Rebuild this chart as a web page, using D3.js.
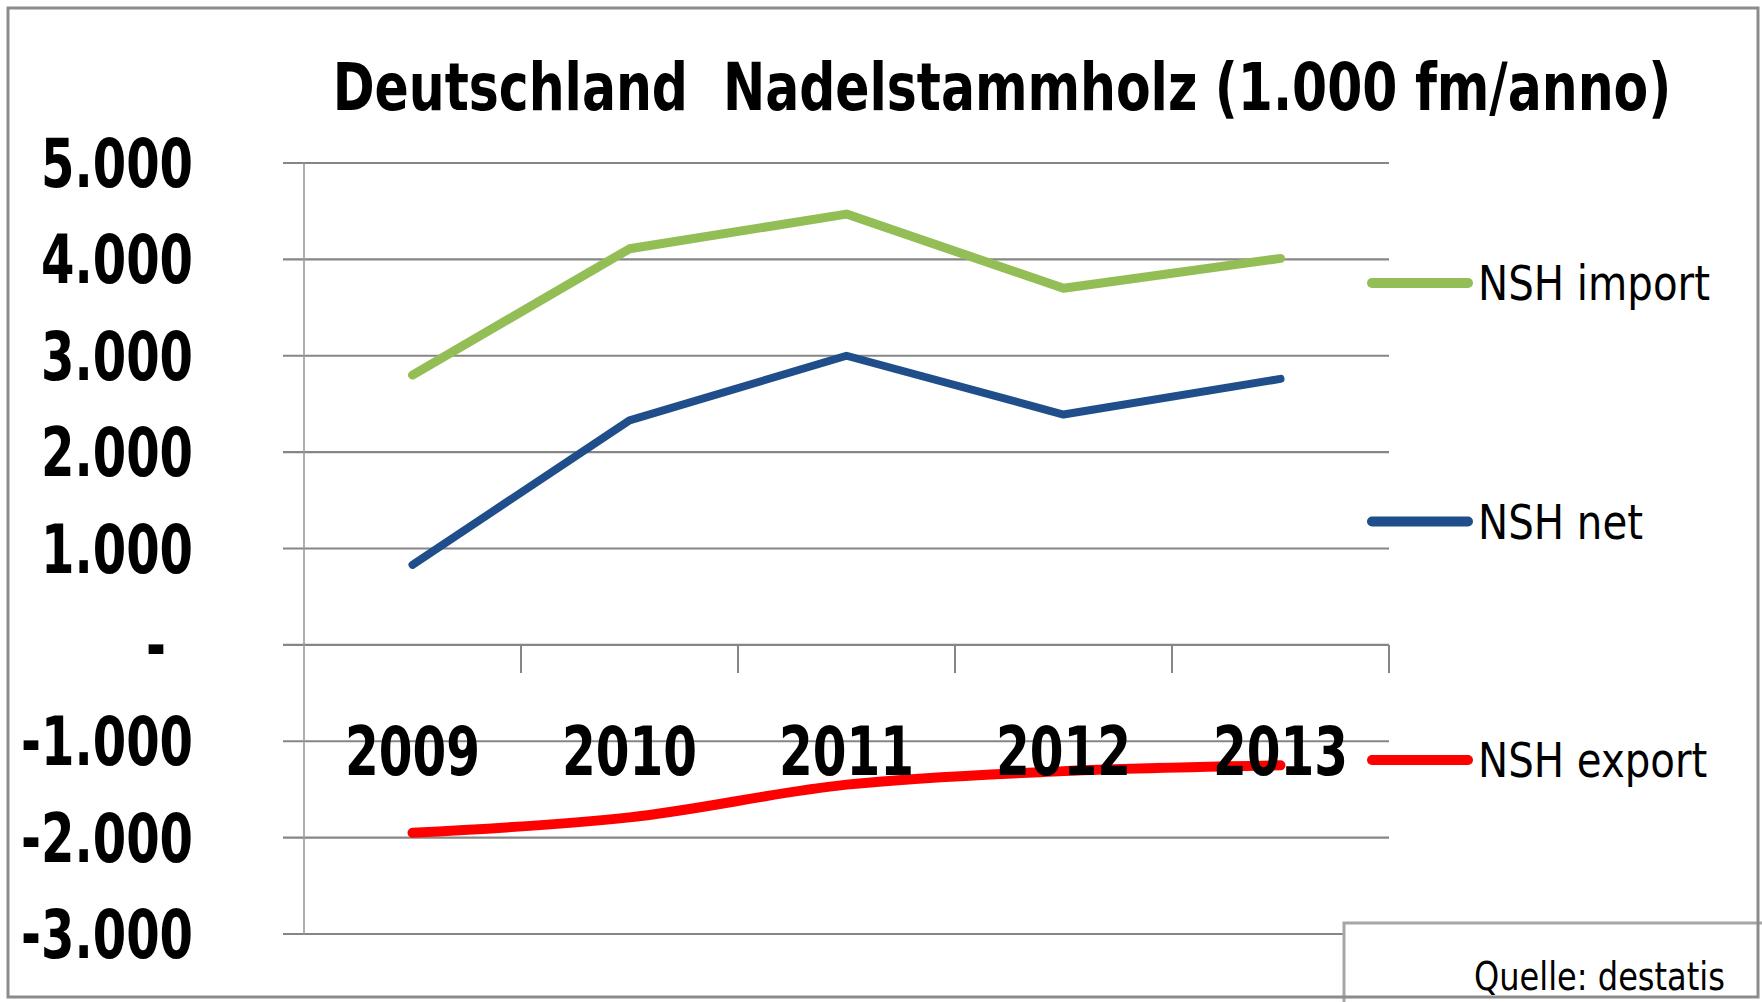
<!DOCTYPE html>
<html>
<head>
<meta charset="utf-8">
<script src="https://cdn.jsdelivr.net/npm/d3@7"></script>
<style>
  body { margin: 0; background: #fff; }
  text { font-family: "Liberation Sans Narrow", "DejaVu Sans Condensed", "Liberation Sans", sans-serif; fill: #000; }
</style>
</head>
<body>
<div id="vis"></div>
<script>
////////// data //////////
var years = ["2009", "2010", "2011", "2012", "2013"];
var nshImport = [2800, 4110, 4470, 3700, 4010];
var nshNet = [830, 2330, 3000, 2390, 2760];
var nshExport = [-1950, -1790, -1450, -1310, -1250];
var yTicks = [5000, 4000, 3000, 2000, 1000, 0, -1000, -2000, -3000];
var seriesNames = ["NSH import", "NSH net", "NSH export"];
var titleText = "Deutschland  Nadelstammholz (1.000 fm/anno)";
var sourceText = "Quelle: destatis";

var series = [
  { name: seriesNames[0], values: nshImport, color: "#93bd55", width: 9, smooth: false },
  { name: seriesNames[1], values: nshNet, color: "#1f4e8a", width: 8, smooth: false },
  { name: seriesNames[2], values: nshExport, color: "#ff0000", width: 10, smooth: true }
];

////////// layout //////////
var width = 1762, height = 1002;
var margin = { top: 163, right: 373, bottom: 68, left: 304 },
  widthVis = width - margin.left - margin.right,
  heightVis = height - margin.top - margin.bottom;

var de = d3.formatLocale({ decimal: ",", thousands: ".", grouping: [3], currency: ["", " €"], minus: "-" });
var fmt = de.format(",d");

var svg = d3.select("#vis")
  .append("svg")
  .attr("width", width)
  .attr("height", height);

svg.append("rect").attr("width", width).attr("height", height).attr("fill", "#fff");

var x = d3.scaleBand().domain(years).range([0, widthVis]);
var y = d3.scaleLinear().domain([-3000, 5000]).range([heightVis, 0]);
var cx = function (d) { return x(d) + x.bandwidth() / 2; };

// squeeze text horizontally (narrow look like the original font):
// one factor per group, taken from a sample label and its target width
function squeeze(sel, sampleWidth, sampleNode) {
  var k = sampleWidth / sampleNode.getComputedTextLength();
  sel.each(function () {
    var t = d3.select(this);
    var ax = +t.attr("x") || 0, ay = +t.attr("y") || 0;
    t.attr("x", 0).attr("y", 0)
      .attr("transform", "translate(" + ax + "," + ay + ") scale(" + k + ",1)");
  });
}

var g = svg.append("g").attr("transform", "translate(" + margin.left + "," + margin.top + ")");

////////// grid + axes //////////
g.append("g").attr("class", "grid")
  .selectAll("line")
  .data(yTicks)
  .enter().append("line")
  .attr("x1", -21).attr("x2", widthVis)
  .attr("y1", y).attr("y2", y)
  .attr("stroke", "#868686")
  .attr("stroke-width", 2.2);

g.append("line")
  .attr("x1", 0).attr("x2", 0)
  .attr("y1", 0).attr("y2", heightVis)
  .attr("stroke", "#9a9a9a")
  .attr("stroke-width", 1.6);

g.append("g").attr("class", "xticks")
  .selectAll("line")
  .data(years)
  .enter().append("line")
  .attr("x1", function (d) { return x(d) + x.bandwidth(); })
  .attr("x2", function (d) { return x(d) + x.bandwidth(); })
  .attr("y1", y(0)).attr("y2", y(0) + 28)
  .attr("stroke", "#868686")
  .attr("stroke-width", 2);

////////// lines //////////
series.forEach(function (s) {
  var line = d3.line()
    .x(function (d, i) { return cx(years[i]); })
    .y(function (d) { return y(d); })
    .curve(s.smooth ? d3.curveCatmullRom.alpha(0.5) : d3.curveLinear);
  g.append("path")
    .datum(s.values)
    .attr("d", line)
    .attr("fill", "none")
    .attr("stroke", s.color)
    .attr("stroke-width", s.width)
    .attr("stroke-linecap", "round")
    .attr("stroke-linejoin", "round");
});

////////// tick labels //////////
var yLabels = g.append("g").attr("class", "ylabels")
  .selectAll("text")
  .data(yTicks)
  .enter().append("text")
  .attr("x", function (d) { return d === 0 ? -138 : -111; })
  .attr("y", function (d) { return y(d) + 24; })
  .attr("text-anchor", "end")
  .style("font-size", "68px")
  .style("font-weight", "bold")
  .text(function (d) { return d === 0 ? "-" : fmt(d); });
squeeze(yLabels, 152, yLabels.nodes()[0]);

var xLabels = g.append("g").attr("class", "xlabels")
  .selectAll("text")
  .data(years)
  .enter().append("text")
  .attr("x", cx)
  .attr("y", y(0) + 130)
  .attr("text-anchor", "middle")
  .style("font-size", "68px")
  .style("font-weight", "bold")
  .text(function (d) { return d; });
squeeze(xLabels, 135, xLabels.nodes()[0]);

////////// title //////////
var title = svg.append("text")
  .attr("x", 1002)
  .attr("y", 110)
  .attr("text-anchor", "middle")
  .style("font-size", "66px")
  .style("font-weight", "bold")
  .style("white-space", "pre")
  .text(titleText);
squeeze(title, 1339, title.node());

////////// legend //////////
var legend = svg.append("g").attr("class", "legend")
  .selectAll("g")
  .data(series)
  .enter().append("g")
  .attr("transform", function (d, i) { return "translate(1372," + (283 + i * 238.5) + ")"; });
legend.append("line")
  .attr("x1", 0).attr("x2", 96)
  .attr("stroke", function (d) { return d.color; })
  .attr("stroke-width", 10)
  .attr("stroke-linecap", "round");
var legendText = legend.append("text")
  .attr("x", 106)
  .attr("y", 17)
  .style("font-size", "48px")
  .text(function (d) { return d.name; });
squeeze(legendText, 232, legendText.nodes()[0]);

////////// source box + frame //////////
svg.append("rect")
  .attr("x", 1344).attr("y", 923)
  .attr("width", 420).attr("height", 90)
  .attr("fill", "#fff")
  .attr("stroke", "#a6a6a6")
  .attr("stroke-width", 3);
var source = svg.append("text")
  .attr("x", 1474)
  .attr("y", 990)
  .style("font-size", "39px")
  .text(sourceText);
squeeze(source, 251, source.node());

svg.append("rect")
  .attr("x", 8).attr("y", 8)
  .attr("width", 1750).attr("height", 989)
  .attr("fill", "none")
  .attr("stroke", "#8c8c8c")
  .attr("stroke-width", 3);
</script>
</body>
</html>
